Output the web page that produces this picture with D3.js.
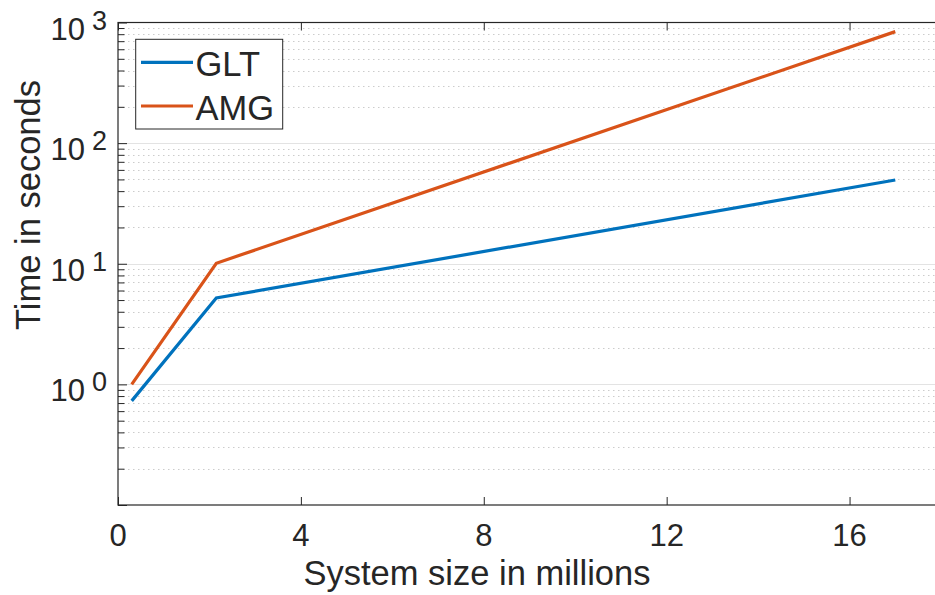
<!DOCTYPE html>
<html><head><meta charset="utf-8">
<script src="https://cdn.jsdelivr.net/npm/d3@7"></script>
<style>
html,body{margin:0;padding:0;background:#fff;overflow:hidden}
text{font-family:"Liberation Sans",Arial,Helvetica,sans-serif;fill:#262626}
</style></head>
<body>
<svg id="chart" width="935" height="595"></svg>
<script>
// Data
const systemSize = [0.3, 2.15, 17];           // millions
const gltTime   = [0.73, 5.2, 49.5];          // seconds
const amgTime   = [1.0, 10.1, 840];           // seconds
const seriesNames = ["GLT", "AMG"];
const xTickValues = [0, 4, 8, 12, 16];
const yTickExponents = [0, 1, 2, 3];
const xLabelText = "System size in millions";
const yLabelText = "Time in seconds";

(function () {
const svg = d3.select("#chart");
const pLeft = 118, pTop = 22.5, pBottom = 505, pRight = 941;
const x = d3.scaleLinear().domain([0, 18]).range([pLeft, pRight]);
const y = d3.scaleLog().domain([0.1, 1000]).range([pBottom, pTop]);

const axisColor = "#262626";
const colors = ["#0072BD", "#D95319"];

const minorVals = [];
for (let e = -1; e < 3; e++) for (let m = 2; m <= 9; m++) minorVals.push(m * Math.pow(10, e));
const majorVals = [0.1, 1, 10, 100, 1000];

const g = svg.append("g");
g.selectAll("line.minor").data(minorVals).join("line")
  .attr("x1", pLeft).attr("x2", pRight)
  .attr("y1", d => Math.round(y(d)) + 0.5).attr("y2", d => Math.round(y(d)) + 0.5)
  .attr("stroke", "#cccccc").attr("stroke-width", 1).attr("stroke-dasharray", "1.5,3.5");
g.selectAll("line.major").data(majorVals.slice(1, 4)).join("line")
  .attr("x1", pLeft).attr("x2", pRight)
  .attr("y1", d => Math.round(y(d)) + 0.5).attr("y2", d => Math.round(y(d)) + 0.5)
  .attr("stroke", "#e3e3e3").attr("stroke-width", 1.2);

const yAxisMajor = d3.axisRight(y).tickValues(majorVals).tickSize(9).tickFormat("");
const yAxisMinor = d3.axisRight(y).tickValues(minorVals).tickSize(6.5).tickFormat("");
svg.append("g").attr("transform", `translate(${pLeft},0)`).call(yAxisMinor)
  .call(s => s.select(".domain").remove()).selectAll("line").attr("stroke", axisColor);
svg.append("g").attr("transform", `translate(${pLeft},0)`).call(yAxisMajor)
  .call(s => s.select(".domain").remove()).selectAll("line").attr("stroke", axisColor);

svg.append("g").attr("transform", `translate(0,${pBottom})`)
  .call(d3.axisTop(x).tickValues(xTickValues).tickSize(8).tickFormat(""))
  .call(s => s.select(".domain").remove()).selectAll("line").attr("stroke", axisColor);
svg.append("g").attr("transform", `translate(0,${pTop})`)
  .call(d3.axisBottom(x).tickValues(xTickValues).tickSize(8).tickFormat(""))
  .call(s => s.select(".domain").remove()).selectAll("line").attr("stroke", axisColor);

svg.append("rect").attr("x", pLeft).attr("y", pTop).attr("width", pRight - pLeft).attr("height", pBottom - pTop)
  .attr("fill", "none").attr("stroke", axisColor).attr("stroke-width", 1.2);

svg.selectAll("text.xt").data(xTickValues).join("text")
  .attr("x", d => x(d)).attr("y", 545.5).attr("text-anchor", "middle")
  .attr("font-size", 31).text(d => d);

yTickExponents.forEach(e => {
  const yy = y(Math.pow(10, e));
  const t = svg.append("text").attr("x", 107).attr("y", yy + 17).attr("text-anchor", "end").attr("font-size", 31);
  t.append("tspan").text("10");
  t.append("tspan").attr("dx", 7).attr("dy", -10).attr("font-size", 27).text(e);
});

const line = d3.line().x((d, i) => x(systemSize[i])).y(d => y(d));
[gltTime, amgTime].forEach((s, i) => {
  svg.append("path").datum(s).attr("d", line).attr("fill", "none")
    .attr("stroke", colors[i]).attr("stroke-width", 3.2).attr("stroke-linejoin", "miter");
});

svg.append("rect").attr("x", 135.7).attr("y", 39.3).attr("width", 147).attr("height", 89.7)
  .attr("fill", "#fff").attr("stroke", axisColor).attr("stroke-width", 1);
const legY = [62.3, 106];
seriesNames.forEach((n, i) => {
  svg.append("line").attr("x1", 141).attr("x2", 193).attr("y1", legY[i]).attr("y2", legY[i])
    .attr("stroke", colors[i]).attr("stroke-width", 3.2);
  svg.append("text").attr("x", 195.5).attr("y", legY[i] + 13.5).attr("font-size", 34.5).text(n);
});

svg.append("text").attr("x", 477).attr("y", 585).attr("text-anchor", "middle")
  .attr("font-size", 34.5).text(xLabelText);
svg.append("text").attr("transform", "translate(40,205) rotate(-90)").attr("text-anchor", "middle")
  .attr("font-size", 34.5).text(yLabelText);
})();
</script>
</body></html>
